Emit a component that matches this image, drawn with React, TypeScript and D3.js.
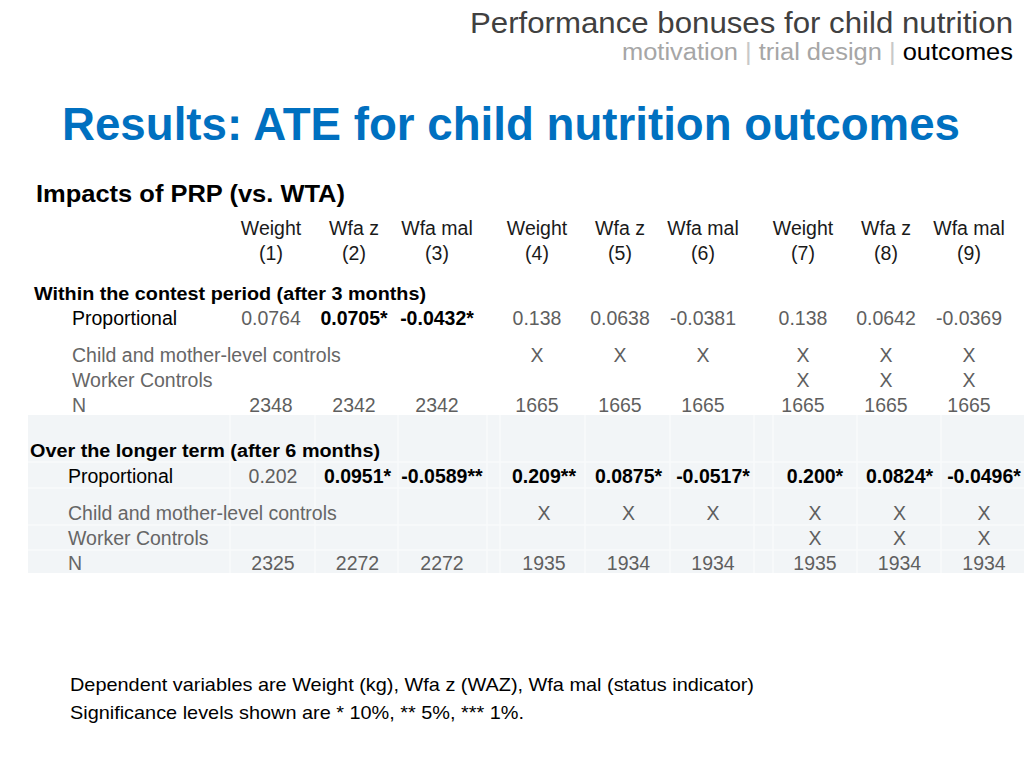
import React from "react";
import * as d3 from "d3";

const columnNames = ["Weight", "Wfa z", "Wfa mal", "Weight", "Wfa z", "Wfa mal", "Weight", "Wfa z", "Wfa mal"];
const columnNumbers = ["(1)", "(2)", "(3)", "(4)", "(5)", "(6)", "(7)", "(8)", "(9)"];

const shortCoef = ["0.0764", "0.0705*", "-0.0432*", "0.138", "0.0638", "-0.0381", "0.138", "0.0642", "-0.0369"];
const shortChildControls = [false, false, false, true, true, true, true, true, true];
const shortWorkerControls = [false, false, false, false, false, false, true, true, true];
const shortN = ["2348", "2342", "2342", "1665", "1665", "1665", "1665", "1665", "1665"];

const longCoef = ["0.202", "0.0951*", "-0.0589**", "0.209**", "0.0875*", "-0.0517*", "0.200*", "0.0824*", "-0.0496*"];
const longChildControls = [false, false, false, true, true, true, true, true, true];
const longWorkerControls = [false, false, false, false, false, false, true, true, true];
const longN = ["2325", "2272", "2272", "1935", "1934", "1934", "1935", "1934", "1934"];

const FONT = "'Liberation Sans', Arial, Helvetica, sans-serif";

function makeCol(groupStart: number, groupStep: number, inner: number) {
  const g = d3.scaleLinear().domain([0, 1]).range([groupStart, groupStart + groupStep]);
  const k = d3.scaleLinear().domain([0, 1]).range([0, inner]);
  return (i: number) => g(Math.floor(i / 3)) + k(i % 3);
}

const colTop = makeCol(271, 266, 83);
const colBottom = makeCol(273, 271, 84.5);

const GRAY = "#5f5f5f";
const LABEL = "#666";

function ValueRow({ values, y, col }: { values: string[]; y: number; col: (i: number) => number }) {
  return (
    <g>
      {values.map((v, i) => {
        const bold = v.includes("*");
        return (
          <text key={i} x={col(i)} y={y} textAnchor="middle" fontSize={19.5} fontWeight={bold ? 700 : 400} fill={bold ? "#000" : GRAY}>
            {v}
          </text>
        );
      })}
    </g>
  );
}

function MarkRow({ flags, y, col }: { flags: boolean[]; y: number; col: (i: number) => number }) {
  return (
    <g>
      {flags.map((f, i) =>
        f ? (
          <text key={i} x={col(i)} y={y} textAnchor="middle" fontSize={19.5} fill={GRAY}>
            X
          </text>
        ) : null
      )}
    </g>
  );
}

export default function App() {
  const vLines = [230, 315, 398, 487, 500, 585, 670, 754, 773, 857, 941];
  const hLines = [462, 488, 525, 550];
  return (
    <svg width={1024} height={768} style={{ position: "absolute", left: 0, top: 0, fontFamily: FONT }}>
      <rect width={1024} height={768} fill="#fff" />
      {/* header */}
      <text x={1013} y={33} textAnchor="end" fontSize={30} fill="#404040" textLength={543} lengthAdjust="spacingAndGlyphs">
        Performance bonuses for child nutrition
      </text>
      <text x={1013} y={60} textAnchor="end" fontSize={23} fill="#a6a6a6" textLength={391} lengthAdjust="spacingAndGlyphs">
        <tspan>motivation </tspan>
        <tspan fill="#c8c8c8">|</tspan>
        <tspan> trial design </tspan>
        <tspan fill="#c8c8c8">|</tspan>
        <tspan fill="#000"> outcomes</tspan>
      </text>
      {/* title */}
      <text x={62} y={140} fontSize={46} fontWeight={700} fill="#0070c0" textLength={898} lengthAdjust="spacingAndGlyphs">
        Results: ATE for child nutrition outcomes
      </text>
      <text x={36} y={202} fontSize={24} fontWeight={700} fill="#000" textLength={309} lengthAdjust="spacingAndGlyphs">
        Impacts of PRP (vs. WTA)
      </text>
      {/* column headers */}
      {columnNames.map((c, i) => (
        <text key={"h" + i} x={colTop(i)} y={235} textAnchor="middle" fontSize={19.5} fill="#1a1a1a">
          {c}
        </text>
      ))}
      {columnNumbers.map((c, i) => (
        <text key={"n" + i} x={colTop(i)} y={260} textAnchor="middle" fontSize={19.5} fill="#1a1a1a">
          {c}
        </text>
      ))}

      {/* top table */}
      <text x={34} y={300} fontSize={18} fontWeight={700} fill="#000" textLength={392} lengthAdjust="spacingAndGlyphs">
        Within the contest period (after 3 months)
      </text>
      <text x={72} y={325} fontSize={19.5} fill="#000">Proportional</text>
      <ValueRow values={shortCoef} y={325} col={colTop} />
      <text x={72} y={362} fontSize={19.5} fill={LABEL}>Child and mother-level controls</text>
      <MarkRow flags={shortChildControls} y={362} col={colTop} />
      <text x={72} y={387} fontSize={19.5} fill={LABEL}>Worker Controls</text>
      <MarkRow flags={shortWorkerControls} y={387} col={colTop} />
      <text x={72} y={412} fontSize={19.5} fill={LABEL}>N</text>
      <ValueRow values={shortN} y={412} col={colTop} />

      {/* bottom shaded table */}
      <rect x={28} y={415} width={996} height={158} fill="#f2f5f7" />
      {vLines.map((x, i) => (
        <line key={"v" + i} x1={x} x2={x} y1={415} y2={573} stroke="#f8fafb" strokeWidth={1.5} />
      ))}
      {hLines.map((y, i) => (
        <line key={"hl" + i} x1={28} x2={1024} y1={y} y2={y} stroke="#f8fafb" strokeWidth={1.5} />
      ))}
      <text x={30} y={457} fontSize={18} fontWeight={700} fill="#000" textLength={350} lengthAdjust="spacingAndGlyphs">
        Over the longer term (after 6 months)
      </text>
      <text x={68} y={483} fontSize={19.5} fill="#000">Proportional</text>
      <ValueRow values={longCoef} y={483} col={colBottom} />
      <text x={68} y={520} fontSize={19.5} fill={LABEL}>Child and mother-level controls</text>
      <MarkRow flags={longChildControls} y={520} col={colBottom} />
      <text x={68} y={545} fontSize={19.5} fill={LABEL}>Worker Controls</text>
      <MarkRow flags={longWorkerControls} y={545} col={colBottom} />
      <text x={68} y={570} fontSize={19.5} fill={LABEL}>N</text>
      <ValueRow values={longN} y={570} col={colBottom} />

      {/* footnotes */}
      <text x={70} y={691} fontSize={19} fill="#000" textLength={684} lengthAdjust="spacingAndGlyphs">
        Dependent variables are Weight (kg), Wfa z (WAZ), Wfa mal (status indicator)
      </text>
      <text x={70} y={719} fontSize={19} fill="#000" textLength={454} lengthAdjust="spacingAndGlyphs">
        Significance levels shown are * 10%, ** 5%, *** 1%.
      </text>
    </svg>
  );
}
